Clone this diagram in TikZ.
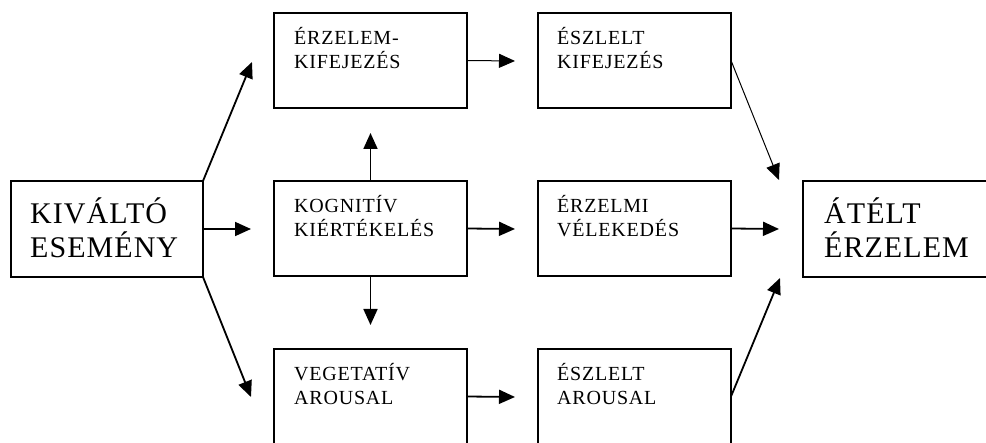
\documentclass[tikz,border=0pt]{standalone}
\usepackage{fontspec}
\setmainfont{Liberation Serif}
\usetikzlibrary{arrows.meta}
\newfontfamily\smallfnt[LetterSpace=4]{Liberation Serif}
\newfontfamily\bigfnt[LetterSpace=3.5]{Liberation Serif}
\begin{document}
\begin{tikzpicture}[x=1pt,y=-1pt,
  box/.style={draw,line width=2.5pt,minimum width=193pt,minimum height=95pt,anchor=north west,inner sep=0pt,outer sep=0pt},
  bigbox/.style={box,minimum width=192pt,minimum height=96pt},
  stxt/.style={anchor=base west,align=left,inner sep=0pt,font=\smallfnt\fontsize{20}{23.5}\selectfont},
  btxt/.style={anchor=base west,align=left,inner sep=0pt,font=\bigfnt\fontsize{30}{34}\selectfont},
  arr/.style={line width=1.8pt,-{Triangle[length=16pt,width=14pt]}},
  tarr/.style={line width=1pt,-{Triangle[length=16pt,width=14pt]}}]
\useasboundingbox (0,0) rectangle (986,443);
\clip (0,0) rectangle (986,443);
% boxes
\node[bigbox] (ev) at (11,181) {};
\node[box] (kif) at (274,13) {};
\node[box] (kog) at (274,181) {};
\node[box] (veg) at (274,349) {};
\node[box] (esk) at (538,13) {};
\node[box] (erv) at (538,181) {};
\node[box] (esa) at (538,349) {};
\node[bigbox] (at) at (803,181) {};
% texts
\node[btxt] (evt) at (30,224) {KIVÁLTÓ};
\node[btxt] (evt2) at (30,258) {ESEMÉNY};
\node[btxt] (att) at (824,224) {ÁTÉLT};
\node[btxt] (att2) at (824,258) {ÉRZELEM};
\node[stxt] (kift) at (294,45) {ÉRZELEM-};
\node[stxt] (kift2) at (294,69) {KIFEJEZÉS};
\node[stxt] (kogt) at (294,213) {KOGNITÍV};
\node[stxt] (kogt2) at (294,237) {KIÉRTÉKELÉS};
\node[stxt] (vegt) at (294,381) {VEGETATÍV};
\node[stxt] (vegt2) at (294,405) {AROUSAL};
\node[stxt] (eskt) at (557,45) {ÉSZLELT};
\node[stxt] (eskt2) at (557,69) {KIFEJEZÉS};
\node[stxt] (ervt) at (557,213) {ÉRZELMI};
\node[stxt] (ervt2) at (557,237) {VÉLEKEDÉS};
\node[stxt] (esat) at (557,381) {ÉSZLELT};
\node[stxt] (esat2) at (557,405) {AROUSAL};
% tips
\coordinate (t1) at (252,62);
\coordinate (t2) at (251,397);
\coordinate (t3) at (251,229);
\coordinate (tu) at (370.5,133);
\coordinate (td) at (370.5,325);
\coordinate (r1) at (515,61);
\coordinate (r2) at (515,229);
\coordinate (r3) at (515,397);
\coordinate (s1) at (779,180);
\coordinate (s2) at (779,229);
\coordinate (s3) at (780,278);
% arrows
\draw[arr] (ev.north east) -- (t1);
\draw[arr] (ev.south east) -- (t2);
\draw[arr] (ev.east) -- (t3);
\draw[arr] (kog.north) -- (tu);
\draw[arr] (kog.south) -- (td);
\draw[tarr] (kif.east) -- (r1);
\draw[arr] (kog.east) -- (r2);
\draw[arr] (veg.east) -- (r3);
\draw[tarr] (esk.east) -- (s1);
\draw[arr] (erv.east) -- (s2);
\draw[arr] (esa.east) -- (s3);
\end{tikzpicture}
\end{document}
